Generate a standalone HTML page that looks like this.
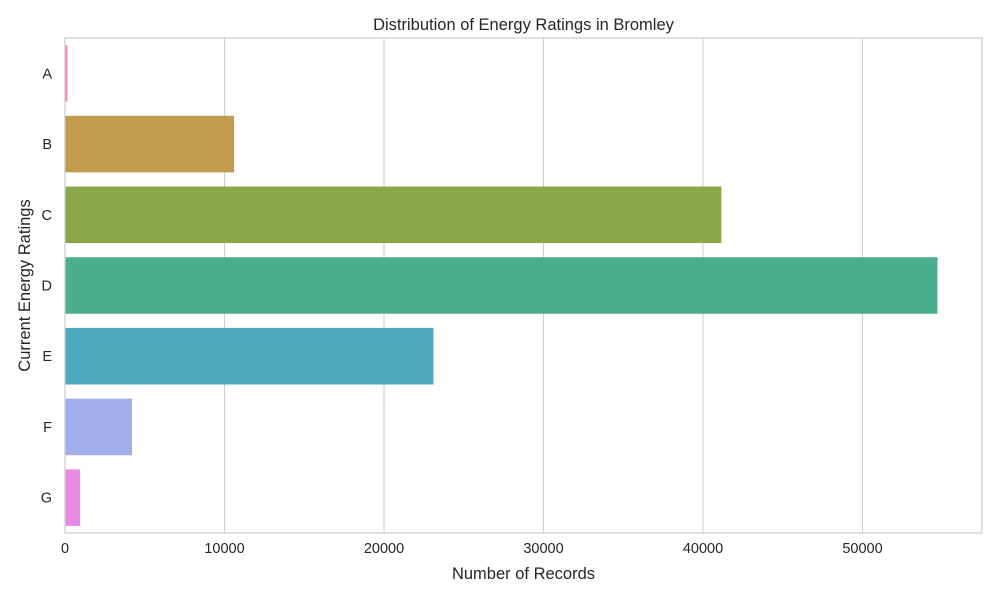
<!DOCTYPE html>
<html><head><meta charset="utf-8"><style>
body{margin:0;background:#fff;font-family:"Liberation Sans","DejaVu Sans",sans-serif;}
</style></head><body>
<svg id="chart" width="1000" height="600" xmlns="http://www.w3.org/2000/svg"></svg>
<script>
const categories=["A","B","C","D","E","F","G"];
const values=[150,10600,41150,54700,23100,4200,950];
const colors=["#f28ba0","#c39b4c","#8aa847","#4aae8f","#4eaabf","#a2adeb","#e88ae3"];
const ticks=[0,10000,20000,30000,40000,50000];
const NS="http://www.w3.org/2000/svg";
const svg=document.getElementById('chart');
const L=65,R=982,T=38,B=533,xMax=57490;
const x=v=>L+(v/xMax)*(R-L);
const step=(B-T)/categories.length;
const y=i=>T+step*i+step/2;
function mk(tag,attrs,parent){const e=document.createElementNS(NS,tag);for(const k in attrs)e.setAttribute(k,attrs[k]);(parent||svg).appendChild(e);return e;}
const grid=mk('g',{});


ticks.forEach(t=>{
  const l=mk('line',{x1:x(t),x2:x(t),y1:T,y2:B,stroke:"#cccccc","stroke-width":1},grid);
  
  
  const tx=mk('text',{x:x(t),y:B+20,"text-anchor":"middle","font-size":14.5,fill:"#262626"});
  tx.textContent=t;
  
  
});
categories.forEach((c,i)=>{
  const h=step*0.8;
  const r=mk('rect',{x:x(0),y:y(i)-h/2,width:x(values[i])-x(0),height:h,fill:colors[i]});
  
  
  const tx=mk('text',{x:L-13,y:y(i)+5,"text-anchor":"end","font-size":14.5,fill:"#262626"});
  tx.textContent=c;
  
  
});
const fr=mk('rect',{x:L,y:T,width:R-L,height:B-T,fill:"none",stroke:"#cccccc","stroke-width":1.2});


const title=mk('text',{x:(L+R)/2,y:30,"text-anchor":"middle","font-size":16.5,fill:"#262626"});
title.textContent="Distribution of Energy Ratings in Bromley";


const xt=mk('text',{x:(L+R)/2,y:579,"text-anchor":"middle","font-size":16.5,fill:"#262626"});
xt.textContent="Number of Records";


const yt=mk('text',{x:30,y:(T+B)/2,"text-anchor":"middle","font-size":16.5,fill:"#262626",transform:`rotate(-90 30 ${(T+B)/2})`});
yt.textContent="Current Energy Ratings";


</script>
</body></html>
